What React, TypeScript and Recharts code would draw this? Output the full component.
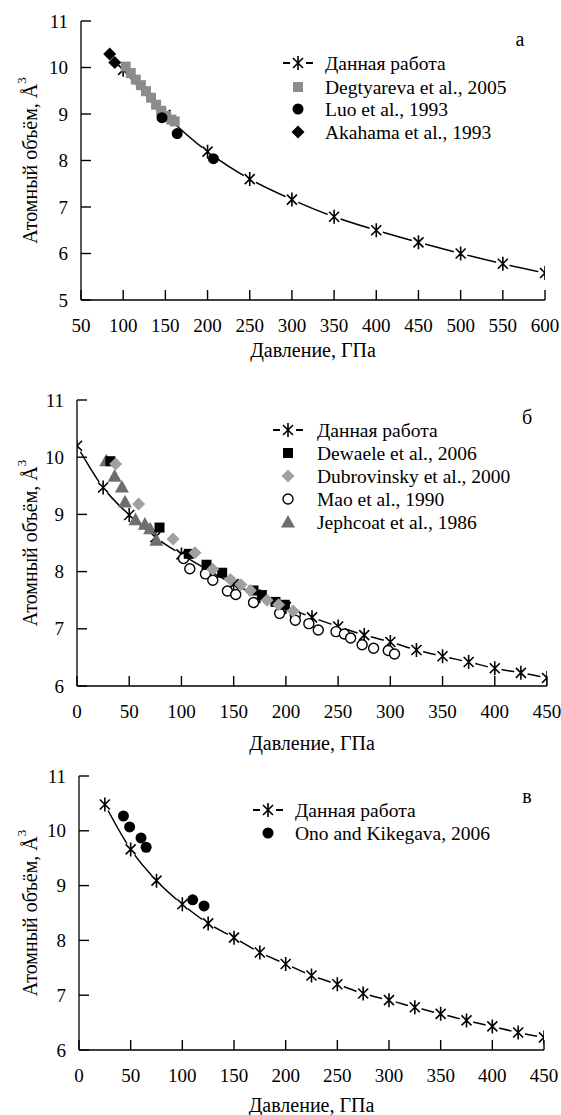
import React from 'react';
import { ComposedChart, Line, Scatter, XAxis, YAxis, Customized } from 'recharts';

const SERIF = '"Liberation Serif", "Times New Roman", serif';

// ---- panel а ----
const thisWorkPA = [100, 150, 200, 250, 300, 350, 400, 450, 500, 550, 600];
const thisWorkVA = [9.95, 8.98, 8.19, 7.6, 7.16, 6.79, 6.5, 6.24, 6.0, 5.78, 5.58];
const degtyarevaP = [103, 109, 115, 121, 127, 133, 139, 145, 151, 157, 161];
const degtyarevaV = [10.02, 9.88, 9.74, 9.62, 9.49, 9.35, 9.2, 9.07, 8.96, 8.88, 8.84];
const luoP = [146, 164, 207];
const luoV = [8.92, 8.58, 8.04];
const akahamaP = [84, 90];
const akahamaV = [10.29, 10.11];
const ticksPA = [50, 100, 150, 200, 250, 300, 350, 400, 450, 500, 550, 600];
const ticksVA = [5, 6, 7, 8, 9, 10, 11];

// ---- panel б ----
const thisWorkPB = [0, 25, 50, 75, 100, 125, 150, 175, 200, 225, 250, 275, 300, 325, 350, 375, 400, 425, 450];
const thisWorkVB = [10.2, 9.47, 8.99, 8.6, 8.3, 8.03, 7.78, 7.57, 7.38, 7.2, 7.04, 6.89, 6.77, 6.63, 6.52, 6.42, 6.31, 6.23, 6.14];
const dewaeleP = [32, 79, 107, 124, 139, 169, 177, 190, 199];
const dewaeleV = [9.93, 8.77, 8.31, 8.12, 7.98, 7.67, 7.59, 7.47, 7.42];
const dubrovinskyP = [37, 59, 92, 113, 130, 147, 157, 166, 182, 193, 207];
const dubrovinskyV = [9.88, 9.18, 8.57, 8.33, 8.04, 7.86, 7.77, 7.67, 7.5, 7.42, 7.31];
const maoP = [102, 108, 123, 130, 144, 152, 169, 194, 209, 209, 222, 231, 248, 256, 262, 273, 284, 298, 304];
const maoV = [8.23, 8.05, 7.96, 7.85, 7.66, 7.6, 7.46, 7.27, 7.24, 7.15, 7.09, 6.98, 6.95, 6.91, 6.84, 6.72, 6.66, 6.62, 6.56];
const jephcoatP = [28, 36, 43, 46, 56, 65, 70, 76];
const jephcoatV = [9.94, 9.67, 9.48, 9.22, 8.91, 8.83, 8.75, 8.55];
const ticksPB = [0, 50, 100, 150, 200, 250, 300, 350, 400, 450];
const ticksVB = [6, 7, 8, 9, 10, 11];

// ---- panel в ----
const thisWorkPC = [25, 50, 75, 100, 125, 150, 175, 200, 225, 250, 275, 300, 325, 350, 375, 400, 425, 450];
const thisWorkVC = [10.48, 9.66, 9.09, 8.66, 8.31, 8.05, 7.78, 7.57, 7.36, 7.2, 7.03, 6.91, 6.78, 6.66, 6.54, 6.43, 6.32, 6.23];
const onoP = [43, 49, 60, 65, 110, 121];
const onoV = [10.27, 10.07, 9.87, 9.7, 8.74, 8.63];

const zip = (p: number[], v: number[]) => p.map((x, i) => ({ p: x, v: v[i] }));

const starPath = (cx: number, cy: number) =>
  `M${cx},${cy - 7}V${cy + 7}M${cx - 5},${cy - 5}L${cx + 5},${cy + 5}M${cx - 5},${cy + 5}L${cx + 5},${cy - 5}`;

const Asterisk = (props: any) => {
  const { cx, cy } = props;
  if (cx == null || cy == null) return null;
  return (
    <g>
      <circle cx={cx} cy={cy} r={7} fill="#fff" />
      <path d={starPath(cx, cy)} stroke="#000" strokeWidth={1.6} fill="none" />
    </g>
  );
};

const squareAt = (cx: number, cy: number, fill: string, s = 10) => (
  <rect x={cx - s / 2} y={cy - s / 2} width={s} height={s} fill={fill} />
);
const circleAt = (cx: number, cy: number, fill: string, r = 5.5) => (
  <circle cx={cx} cy={cy} r={r} fill={fill} stroke="#000" strokeWidth={fill === '#fff' ? 1.4 : 0} />
);
const diamondAt = (cx: number, cy: number, fill: string, s = 6.5) => (
  <path d={`M${cx},${cy - s}L${cx + s},${cy}L${cx},${cy + s}L${cx - s},${cy}Z`} fill={fill} />
);
const triangleAt = (cx: number, cy: number, fill: string, s = 7) => (
  <path d={`M${cx},${cy - s}L${cx + s},${cy + s * 0.8}L${cx - s},${cy + s * 0.8}Z`} fill={fill} />
);

const shape = (fn: (cx: number, cy: number, fill: string) => any, fill: string) => (p: any) =>
  p.cx == null ? <g /> : fn(p.cx, p.cy, fill);

type Item = { label: string; marker: (cx: number, cy: number) => any };

const thisWorkMarker = (cx: number, cy: number) => (
  <g>
    <path d={`M${cx - 15},${cy}H${cx - 8}M${cx + 8},${cy}H${cx + 15}`} stroke="#000" strokeWidth={1.8} />
    <path d={starPath(cx, cy)} stroke="#000" strokeWidth={1.6} fill="none" />
  </g>
);

const LegendBox = ({ mx, tx, ys, items, letter, lx, ly }: any) => (
  <g fill="#000">
    {items.map((it: Item, i: number) => (
      <g key={it.label}>
        {it.marker(mx, ys[i])}
        <text x={tx} y={ys[i]} dominantBaseline="central" style={{ fontFamily: SERIF, fontSize: 19.5 }}>{it.label}</text>
      </g>
    ))}
    <text x={lx} y={ly} dominantBaseline="central" textAnchor="middle" style={{ fontFamily: SERIF, fontSize: 20 }}>{letter}</text>
  </g>
);

const yLabel = (props: any) => {
  const vb = props.viewBox;
  const cy = vb.y + vb.height / 2;
  const cx = 30;
  return (
    <text x={cx} y={cy} transform={`rotate(-90 ${cx} ${cy})`} textAnchor="middle" dominantBaseline="central"
      style={{ fontFamily: SERIF, fontSize: 20 }} fill="#000">
      Атомный объём, Å<tspan dy={-9} style={{ fontSize: 13 }}>3</tspan>
    </text>
  );
};

const xLabel = (dy: number) => (props: any) => {
  const vb = props.viewBox;
  return (
    <text x={vb.x + vb.width / 2} y={vb.y + dy} textAnchor="middle" dominantBaseline="central"
      style={{ fontFamily: SERIF, fontSize: 20 }} fill="#000">
      Давление, ГПа
    </text>
  );
};

// inward tick marks drawn together with the label
const X_GAP = 25;
const Y_GAP = 13;
const XTick = (props: any) => {
  const { x, y, payload } = props;
  const ay = y - X_GAP;
  return (
    <g>
      <path d={`M${x},${ay}V${ay - 10}`} style={{ stroke: '#000', strokeWidth: 1.4, fill: 'none' }} />
      <text x={x} y={y} textAnchor="middle" dominantBaseline="central" style={{ fontFamily: SERIF, fontSize: 19 }} fill="#000">
        {payload.value}
      </text>
    </g>
  );
};
const YTick = (props: any) => {
  const { x, y, payload } = props;
  const ax = x + Y_GAP;
  return (
    <g>
      <path d={`M${ax},${y}H${ax + 10}`} style={{ stroke: '#000', strokeWidth: 1.4, fill: 'none' }} />
      <text x={x} y={y} textAnchor="end" dominantBaseline="central" style={{ fontFamily: SERIF, fontSize: 19 }} fill="#000">
        {payload.value}
      </text>
    </g>
  );
};

const Panel = ({ top, height, margin, yWidth, xHeight, xDomain, xTicks, yDomain, yTicks, labelDy, thisWork, children, legend }: any) => (
  <div style={{ position: 'absolute', left: 0, top, width: 561, height }}>
    <ComposedChart width={561} height={height} margin={margin} style={{ fontFamily: SERIF }}>
      <XAxis dataKey="p" type="number" domain={xDomain} ticks={xTicks} interval={0} allowDataOverflow
        height={xHeight} tickSize={0} tickMargin={X_GAP} tick={<XTick />} tickLine={false}
        axisLine={{ stroke: '#000', strokeWidth: 1.3 }}
        label={{ content: xLabel(labelDy) }} />
      <XAxis xAxisId="top" orientation="top" type="number" domain={xDomain} height={0} tick={false} tickLine={false}
        axisLine={{ stroke: '#000', strokeWidth: 1.3 }} />
      <YAxis dataKey="v" type="number" domain={yDomain} ticks={yTicks} interval={0} allowDataOverflow
        width={yWidth} tickSize={0} tickMargin={Y_GAP} tick={<YTick />} tickLine={false}
        axisLine={{ stroke: '#000', strokeWidth: 1.3 }}
        label={{ content: yLabel }} />
      <YAxis yAxisId="right" orientation="right" type="number" domain={yDomain} width={0} tick={false} tickLine={false}
        axisLine={{ stroke: '#000', strokeWidth: 1.3 }} />
      <Line data={thisWork} dataKey="v" type="monotone" stroke="#000" strokeWidth={1.5}
        dot={<Asterisk />} activeDot={false} isAnimationActive={false} />
      {children}
      <Customized component={legend} />
    </ComposedChart>
  </div>
);

const legendA: Item[] = [
  { label: 'Данная работа', marker: thisWorkMarker },
  { label: 'Degtyareva et al., 2005', marker: (x, y) => squareAt(x, y, '#8c8c8c') },
  { label: 'Luo et al., 1993', marker: (x, y) => circleAt(x, y, '#000') },
  { label: 'Akahama et al., 1993', marker: (x, y) => diamondAt(x, y, '#000') },
];
const legendB: Item[] = [
  { label: 'Данная работа', marker: thisWorkMarker },
  { label: 'Dewaele et al., 2006', marker: (x, y) => squareAt(x, y, '#000') },
  { label: 'Dubrovinsky et al., 2000', marker: (x, y) => diamondAt(x, y, '#a0a0a0') },
  { label: 'Mao et al., 1990', marker: (x, y) => circleAt(x, y, '#fff', 5) },
  { label: 'Jephcoat et al., 1986', marker: (x, y) => triangleAt(x, y, '#6e6e6e') },
];
const legendC: Item[] = [
  { label: 'Данная работа', marker: thisWorkMarker },
  { label: 'Ono and Kikegava, 2006', marker: (x, y) => circleAt(x, y, '#000') },
];

export default function App() {
  return (
    <div style={{ position: 'absolute', left: 0, top: 0, width: 561, height: 1115, background: '#fff', fontFamily: SERIF }}>
      <Panel top={0} height={375} margin={{ top: 21, right: 16, bottom: 0, left: 0 }} yWidth={81} xHeight={75}
        xDomain={[50, 600]} xTicks={ticksPA} yDomain={[5, 11]} yTicks={ticksVA} labelDy={50}
        thisWork={zip(thisWorkPA, thisWorkVA)}
        legend={<LegendBox mx={298} tx={325} ys={[63, 87, 109, 132]} items={legendA} letter="а" lx={520} ly={39} />}>
        <Scatter data={zip(degtyarevaP, degtyarevaV)} dataKey="v" shape={shape(squareAt, '#8c8c8c')} isAnimationActive={false} />
        <Scatter data={zip(luoP, luoV)} dataKey="v" shape={shape(circleAt, '#000')} isAnimationActive={false} />
        <Scatter data={zip(akahamaP, akahamaV)} dataKey="v" shape={shape(diamondAt, '#000')} isAnimationActive={false} />
      </Panel>
      <Panel top={365} height={395} margin={{ top: 35, right: 14, bottom: 0, left: 0 }} yWidth={77} xHeight={74}
        xDomain={[0, 450]} xTicks={ticksPB} yDomain={[6, 11]} yTicks={ticksVB} labelDy={57}
        thisWork={zip(thisWorkPB, thisWorkVB)}
        legend={<LegendBox mx={288} tx={317} ys={[65, 88, 111, 134, 157]} items={legendB} letter="б" lx={527} ly={52} />}>
        <Scatter data={zip(jephcoatP, jephcoatV)} dataKey="v" shape={shape(triangleAt, '#6e6e6e')} isAnimationActive={false} />
        <Scatter data={zip(maoP, maoV)} dataKey="v" shape={shape((x, y, f) => circleAt(x, y, f, 5), '#fff')} isAnimationActive={false} />
        <Scatter data={zip(dewaeleP, dewaeleV)} dataKey="v" shape={shape(squareAt, '#000')} isAnimationActive={false} />
        <Scatter data={zip(dubrovinskyP, dubrovinskyV)} dataKey="v" shape={shape(diamondAt, '#a0a0a0')} isAnimationActive={false} />
      </Panel>
      <Panel top={745} height={370} margin={{ top: 31, right: 17, bottom: 0, left: 0 }} yWidth={79} xHeight={65}
        xDomain={[0, 450]} xTicks={ticksPB} yDomain={[6, 11]} yTicks={ticksVB} labelDy={55}
        thisWork={zip(thisWorkPC, thisWorkVC)}
        legend={<LegendBox mx={268} tx={295} ys={[65, 88]} items={legendC} letter="в" lx={527} ly={51} />}>
        <Scatter data={zip(onoP, onoV)} dataKey="v" shape={shape(circleAt, '#000')} isAnimationActive={false} />
      </Panel>
    </div>
  );
}
